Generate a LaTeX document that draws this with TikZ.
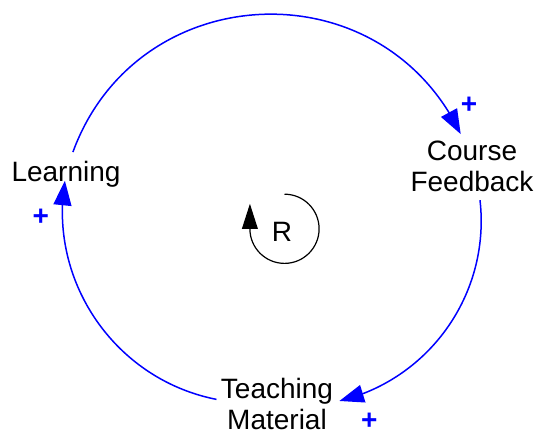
\documentclass[tikz,border=0pt]{standalone}
\usepackage{fontspec}
\setmainfont{Liberation Sans}
\usetikzlibrary{arrows.meta,bending}
\definecolor{linkblue}{RGB}{0,0,255}
\begin{document}
\begin{tikzpicture}[x=1pt,y=1pt,
  lbl/.style={font=\fontsize{28}{31}\selectfont, align=center, inner sep=0pt, anchor=base},
  pol/.style={font=\bfseries\fontsize{28}{31}\selectfont, text=linkblue, inner sep=0pt, anchor=base},
  link/.style={draw=linkblue, line width=1.5pt, -{Triangle[length=24.5pt,width=18pt,flex=1]}},
  loopsym/.style={draw=black, line width=1.2pt, -{Triangle[length=25pt,width=15.7pt]}}]
\useasboundingbox (0,0) rectangle (541,435);
% variables (anchor base = baseline of the last line)
\node[lbl] (learn) at (66,253.3) {Learning};
\node[lbl] (course) at (472,243) {Course\\Feedback};
\node[lbl] (teach) at (277,5) {Teaching\\Material};
% link end points
\coordinate (l1) at (72.9,282.9);
\coordinate (c1) at (460.7,300.9);
\coordinate (c2) at (480,234.8);
\coordinate (t1) at (339.4,34);
\coordinate (t2) at (216.5,35.6);
\coordinate (l2) at (64.9,254.2);
% links
\draw[link] (l1) to[bend left=67.25, looseness=1.227] (c1);
\draw[link] (c2) to[bend left=41.5, looseness=0.974] (t1);
\draw[link] (t2) to[bend left=44.15, looseness=0.99] (l2);
% polarities
\node[pol] (p1) at (469,321.9) {+};
\node[pol] (p2) at (369.3,5.5) {+};
\node[pol] (p3) at (40.8,209.2) {+};
% loop symbol
\coordinate (rc) at (284.5,206.2);
\draw[loopsym] (rc) ++(90:34.6) arc[start angle=90, end angle=-180, radius=34.6] -- ++(0,25);
\node[lbl] (r) at (282,193.3) {R};
\end{tikzpicture}
\end{document}
